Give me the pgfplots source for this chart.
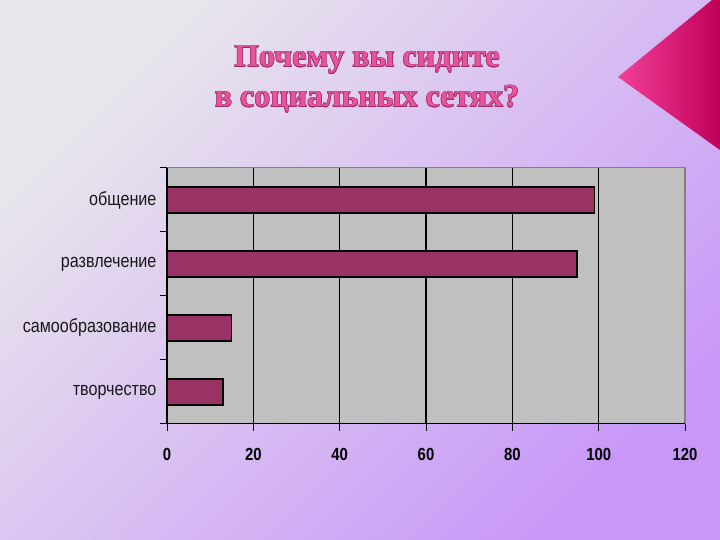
\documentclass[border=0pt]{standalone}
\usepackage{fontspec}
\setmainfont{Liberation Sans}
\newfontfamily\narrowfont[FakeStretch=0.85]{Liberation Sans}
\newfontfamily\titlefont{Liberation Serif}
\usepackage{pgfplots}
\pgfplotsset{compat=1.18}
\definecolor{bgtl}{HTML}{E9E7EC}
\definecolor{bgbr}{HTML}{C898F8}
\definecolor{barcol}{HTML}{993366}
\definecolor{plotgray}{HTML}{C0C0C0}
\definecolor{titlepink}{HTML}{E6559A}
\definecolor{titleedge}{HTML}{A02868}
\definecolor{trilight}{HTML}{F2409A}
\definecolor{tridark}{HTML}{C00058}

\newcommand\titleline[2]{%
  \foreach \dx/\dy in {0.55/0,-0.55/0,0/0.55,0/-0.55,0.4/0.4,-0.4/0.4,0.4/-0.4,-0.4/-0.4}
    \node[anchor=base, text=titleedge, inner sep=0pt,
      font=\titlefont\bfseries\fontsize{32}{32}\selectfont] at (367pt+\dx pt,#1pt+\dy pt) {#2};
  \node[anchor=base, text=titlepink, inner sep=0pt,
    font=\titlefont\bfseries\fontsize{32}{32}\selectfont] at (367pt,#1pt) {#2};}

\begin{document}
\begin{tikzpicture}
% slide background
\shade[top color=bgtl, bottom color=bgbr, shading angle=45] (0pt,0pt) rectangle (720pt,540pt);
\shade[left color=trilight, right color=tridark] (618pt,463pt) -- (712pt,540pt) -- (720pt,540pt) -- (720pt,390pt) -- cycle;

\titleline{473}{Почему вы сидите}
\titleline{433}{в социальных сетях?}

\begin{axis}[
  at={(167pt,116pt)}, anchor=south west,
  scale only axis, width=518pt, height=256pt,
  xbar, bar width=0.41,
  xmin=0, xmax=120, ymin=0.5, ymax=4.5,
  xtick={0,20,...,120},
  ytick={0.5,1.5,2.5,3.5,4.5},
  yticklabels={творчество,самообразование,развлечение,общение,{}},
  yticklabel style={yshift=32pt, font=\narrowfont\fontsize{19}{19}\selectfont, text=black!90},
  xticklabel style={yshift=-14pt, font=\narrowfont\bfseries\fontsize{17.5}{17.5}\selectfont},
  /pgf/number format/assume math mode=true,
  xtick pos=bottom, ytick pos=left,
  tick align=outside, major tick length=7pt,
  tick style={black, line width=1pt},
  xmajorgrids, grid style={black, line width=1.6pt},
  axis background/.style={fill=plotgray},
  axis line style={draw=gray, line width=1pt},
]
\addplot[fill=barcol, draw=black, line width=1.3pt] coordinates {
  (99,4)
  (95,3)
  (15,2)
  (13,1)
};
\draw[gray, line width=1.6pt] (rel axis cs:1,0) -- (rel axis cs:1,1);
\draw[black, line width=1pt] (rel axis cs:0,0) -- (rel axis cs:0,1);
\draw[black, line width=1.8pt] (rel axis cs:0,0) -- (rel axis cs:1,0);
\end{axis}
\end{tikzpicture}
\end{document}
